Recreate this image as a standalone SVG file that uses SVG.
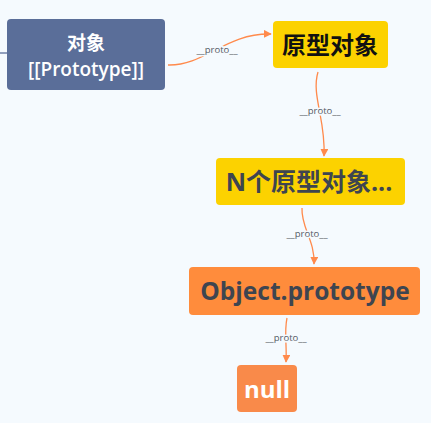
<svg xmlns="http://www.w3.org/2000/svg" width="431" height="423" viewBox="0 0 431 423">
<style>
.bg{fill:#F5FAFE}
.edge{fill:none;stroke:#FF8A4C;stroke-width:1.3}
.lbl{font-family:"Open Sans","Noto Sans",sans-serif;font-size:9.5px;fill:#555B66;text-anchor:middle;stroke:#F5FAFE;stroke-width:3;paint-order:stroke}
.t{font-family:"Open Sans","Noto Sans CJK SC",sans-serif;font-weight:bold;text-anchor:middle}
</style>
<defs>
<marker id="arr" viewBox="0 0 10 10" refX="9" refY="5" markerWidth="8" markerHeight="8" markerUnits="userSpaceOnUse" orient="auto">
<path d="M0,0 L10,5 L0,10 Z" fill="#FF8A4C"/>
</marker>
</defs>
<rect class="bg" x="0" y="0" width="431" height="423"/>
<g id="connectors">
<line x1="0" y1="53" x2="7" y2="53" stroke="#5A6E99" stroke-width="1.3"/>
<path class="edge" d="M168,65 C205,66 225,33 271,34" marker-end="url(#arr)"/>
<path class="edge" d="M318,72 C311,95 326,120 324,156" marker-end="url(#arr)"/>
<path class="edge" d="M302,208 C301,228 315,240 314,264" marker-end="url(#arr)"/>
<path class="edge" d="M287,318 C284,332 287,345 286,362" marker-end="url(#arr)"/>
<text class="lbl" x="217" y="53">__proto__</text>
<text class="lbl" x="320" y="114">__proto__</text>
<text class="lbl" x="307" y="237">__proto__</text>
<text class="lbl" x="286" y="341">__proto__</text>
</g>
<g id="node-obj">
<rect x="7" y="19" width="158" height="71" rx="4" fill="#5A6E99"/>
<text class="t" x="86" y="50" font-size="19" fill="#FFFFFF">对象</text>
<text x="86" y="76" font-family="'Open Sans','Noto Sans',sans-serif" font-size="19" font-weight="600" fill="#FFFFFF" text-anchor="middle">[[Prototype]]</text>
</g>
<g id="node-proto">
<rect x="273" y="21" width="115" height="47" rx="4" fill="#FCD200"/>
<text class="t" x="330" y="54" font-size="24" fill="#111111">原型对象</text>
</g>
<g id="node-n">
<rect x="216" y="158" width="189" height="47" rx="4" fill="#FCD200"/>
<text class="t" x="309" y="191" font-size="25" fill="#3E4550">N个原型对象...</text>
</g>
<g id="node-objproto">
<rect x="189" y="267" width="231" height="48" rx="4" fill="#FF8C3C"/>
<text class="t" x="305" y="300" font-size="24.5" fill="#3E4550">Object.prototype</text>
</g>
<g id="node-null">
<rect x="237" y="365" width="60" height="47" rx="4" fill="#F98A4A"/>
<text class="t" x="267" y="398" font-size="24" fill="#FFFFFF">null</text>
</g>
</svg>
